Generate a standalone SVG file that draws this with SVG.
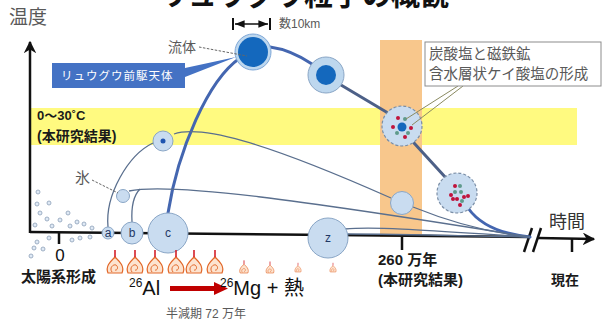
<svg xmlns="http://www.w3.org/2000/svg" width="604" height="323" viewBox="0 0 604 323">
  <style>
    .jp { font-family: "Liberation Sans", "Noto Sans CJK JP", sans-serif; }
    .gray { fill: #595959; }
    .bold { font-weight: bold; fill: #1a1a1a; }
    .body { fill: #c9dcf0; stroke: #8aa6c6; stroke-width: 1; }
    .wet { fill: #c9dcf0; stroke: #7b8ea6; stroke-width: 1.2; stroke-dasharray: 3 2; }
    .path-main { fill: none; stroke: #4466b0; stroke-width: 3; stroke-linecap: round; }
    .path-dark { fill: none; stroke: #4d6087; stroke-width: 3; stroke-linecap: round; }
    .path-thin { fill: none; stroke: #5a6f8e; stroke-width: 1.3; }
    .lead { fill: none; stroke: #666; stroke-width: 1; stroke-dasharray: 2.5 1.5; }
    .axis { stroke: #111; stroke-width: 2.5; fill: none; }
    .dust { fill: #dfe9f5; stroke: #8c9fb8; stroke-width: 0.8; }
    .red { fill: #c0143c; }
    .grn { fill: #5f9a8c; }
    .flame { fill: #fde3cf; stroke: #e2682a; stroke-width: 1.2; }
    .curl { fill: none; stroke: #e2682a; stroke-width: 1; }
    .wick { stroke: #d4202a; stroke-width: 1.6; fill: none; }
    .lbl { font-family: "Liberation Sans", sans-serif; font-size: 12px; fill: #1f3864; text-anchor: middle; }
  </style>
  <defs>
    <marker id="arrowBlack" viewBox="0 0 10 10" refX="9" refY="5" markerWidth="5" markerHeight="5" orient="auto">
      <path d="M0,0 L10,5 L0,10 L3,5 Z" fill="#111"/>
    </marker>
    <marker id="arrowSmall" viewBox="0 0 10 10" refX="10" refY="5" markerWidth="6" markerHeight="6" orient="auto-start-reverse">
      <path d="M0,1 L10,5 L0,9 Z" fill="#111"/>
    </marker>
    <g id="flameShape">
      <path class="flame" d="M-7,0 C-10,-7 -4,-12 0,-16 C4,-12 10,-7 7,0 Z"/>
      <path class="curl" d="M-3,-1 C-6,-5 -2,-9 1,-8 C4,-6 2,-2 0,-3"/>
      <path class="wick" d="M0,-16 L0,-23"/>
    </g>
  </defs>

  <!-- background bands -->
  <rect x="31" y="108" width="546" height="37" fill="#fffa80"/>
  <rect x="380" y="40" width="42" height="197" fill="#f8c78c"/>

  <!-- title -->
  <text x="304" y="6" class="jp" font-size="29" font-weight="bold" text-anchor="middle" fill="#111">リュウグウ粒子の概観</text>

  <!-- axes -->
  <g id="axes">
    <line class="axis" x1="30" y1="233" x2="30" y2="42" marker-end="url(#arrowBlack)"/>
    <polyline class="axis" points="30,232 528,237"/>
    <line class="axis" x1="538" y1="238" x2="594" y2="239" marker-end="url(#arrowBlack)"/>
    <line x1="524" y1="252" x2="532" y2="228" stroke="#111" stroke-width="2.5"/>
    <line x1="533" y1="252" x2="541" y2="228" stroke="#111" stroke-width="2.5"/>
    <line x1="59" y1="232" x2="59" y2="244" stroke="#111" stroke-width="2.5"/>
    <line x1="402" y1="237" x2="402" y2="250" stroke="#111" stroke-width="2.5"/>
    <line x1="572" y1="239" x2="572" y2="252" stroke="#111" stroke-width="2.5"/>
  </g>

  <!-- axis and band labels -->
  <text x="9" y="24" class="jp gray" font-size="19">温度</text>
  <text x="549" y="228" class="jp" font-size="18" fill="#333">時間</text>
  <text x="37" y="120" class="jp bold" font-size="13">0～30˚C</text>
  <text x="37" y="141" class="jp bold" font-size="14">(本研究結果)</text>
  <text x="60" y="261" class="jp" font-size="17" text-anchor="middle" fill="#111">0</text>
  <text x="21" y="282" class="jp bold" font-size="15">太陽系形成</text>
  <text x="378" y="265" class="jp bold" font-size="15">260 万年</text>
  <text x="378" y="285" class="jp bold" font-size="15">(本研究結果)</text>
  <text x="551" y="285" class="jp bold" font-size="14">現在</text>

  <!-- dust grains -->
  <g id="dust">
    <circle class="dust" cx="38" cy="192" r="2"/>
    <circle class="dust" cx="37" cy="204" r="2"/>
    <circle class="dust" cx="49" cy="203" r="2"/>
    <circle class="dust" cx="40" cy="213" r="2"/>
    <circle class="dust" cx="68" cy="213" r="2"/>
    <circle class="dust" cx="47" cy="219" r="2"/>
    <circle class="dust" cx="60" cy="220" r="2"/>
    <circle class="dust" cx="35" cy="225" r="2"/>
    <circle class="dust" cx="52" cy="226" r="2"/>
    <circle class="dust" cx="70" cy="226" r="2"/>
    <circle class="dust" cx="77" cy="222" r="2"/>
    <circle class="dust" cx="84" cy="224" r="2"/>
    <circle class="dust" cx="92" cy="228" r="2"/>
    <circle class="dust" cx="37" cy="242" r="2"/>
    <circle class="dust" cx="49" cy="238" r="2"/>
    <circle class="dust" cx="72" cy="240" r="2"/>
    <circle class="dust" cx="80" cy="238" r="2"/>
    <circle class="dust" cx="90" cy="237" r="2"/>
    <circle class="dust" cx="34" cy="248" r="2"/>
    <circle class="dust" cx="43" cy="249" r="2"/>
    <circle class="dust" cx="31" cy="256" r="2"/>
  </g>

  <!-- thermal histories -->
  <g id="connectors">
    <path class="path-main" d="M168,213 C178,150 208,80 240,58"/>
    <path class="path-main" d="M270,47 C285,49 300,56 312,64"/>
    <path class="path-dark" d="M341,85 L388,113"/>
    <path class="path-dark" d="M414,143 L446,178"/>
    <path class="path-main" d="M468,208 C480,225 500,234 530,237"/>
    <path class="path-thin" d="M108,227 C105,195 128,155 153,143"/>
    <path class="path-thin" d="M132,222 C131,205 134,195 140,189"/>
    <path class="path-thin" d="M174,134 C200,125 260,140 391,198"/>
    <path class="path-thin" d="M413,207 C450,222 490,233 530,237"/>
    <path class="path-thin" d="M129,191 C170,182 300,200 530,237"/>
    <path class="path-thin" d="M345,229 C380,226 450,232 530,237"/>
    <path class="path-thin" d="M348,234 C400,234 470,236 530,237"/>
  </g>

  <!-- planetesimals -->
  <g id="body-a"><circle class="body" cx="108" cy="233" r="6"/><text class="lbl" x="108" y="237" font-size="10">a</text></g>
  <g id="body-b"><circle class="body" cx="132" cy="233" r="11"/><text class="lbl" x="132" y="237">b</text></g>
  <g id="body-c"><circle class="body" cx="168" cy="233" r="20"/><text class="lbl" x="168" y="237">c</text></g>
  <g id="body-z"><circle class="body" cx="328" cy="238" r="20"/><text class="lbl" x="328" y="242" font-size="10">z</text></g>
  <g id="ice-body"><circle class="body" cx="123" cy="196" r="6.5"/></g>
  <g id="warm-body"><circle class="body" cx="163" cy="141" r="10"/><circle cx="163" cy="141" r="2.5" fill="#1f55b0"/></g>

  <!-- fluid-bearing parent body -->
  <g id="fluid-peak">
    <circle cx="253" cy="52" r="18" fill="#bdd7ee" stroke="#7fa8d8" stroke-width="1"/>
    <circle cx="253" cy="52" r="15" fill="#1468bd"/>
  </g>
  <g id="fluid-cooling">
    <circle cx="326" cy="75" r="18" fill="#bdd7ee" stroke="#8aa6c6" stroke-width="1"/>
    <circle cx="326" cy="75" r="10" fill="#1468bd"/>
  </g>

  <!-- aqueous alteration -->
  <g id="altering-body">
    <circle class="wet" cx="402" cy="126" r="20"/>
    <circle cx="402" cy="127" r="4.5" fill="#1468bd"/>
    <circle class="red" cx="398" cy="118" r="2"/>
    <circle class="grn" cx="405" cy="119" r="2"/>
    <circle class="red" cx="393" cy="127" r="2"/>
    <circle class="red" cx="411" cy="128" r="2"/>
    <circle class="grn" cx="397" cy="133" r="2"/>
    <circle class="grn" cx="408" cy="133" r="2"/>
    <circle class="red" cx="405" cy="137" r="2"/>
  </g>
  <g id="altered-body">
    <circle class="wet" cx="457" cy="193" r="20"/>
    <circle class="red" cx="455" cy="186" r="2"/>
    <circle class="grn" cx="460" cy="186" r="2"/>
    <circle class="red" cx="451" cy="195" r="2"/>
    <circle class="grn" cx="455" cy="192" r="2"/>
    <circle class="red" cx="457" cy="199" r="2"/>
    <circle class="grn" cx="461" cy="192" r="2"/>
    <circle class="red" cx="464" cy="197" r="2"/>
    <circle class="red" cx="468" cy="196" r="2"/>
    <circle class="grn" cx="462" cy="201" r="2"/>
    <circle class="red" cx="460" cy="205" r="2"/>
    <circle class="red" cx="453" cy="199" r="2"/>
  </g>
  <g id="late-body"><circle class="body" cx="402" cy="203" r="11.5"/></g>

  <!-- size scale -->
  <g id="size-scale">
    <line x1="233" y1="18" x2="233" y2="30" stroke="#111" stroke-width="2"/>
    <line x1="270" y1="18" x2="270" y2="30" stroke="#111" stroke-width="2"/>
    <line x1="235" y1="24" x2="268" y2="24" stroke="#111" stroke-width="1.6" marker-start="url(#arrowSmall)" marker-end="url(#arrowSmall)"/>
    <text x="279" y="28" class="jp gray" font-size="12">数10km</text>
  </g>

  <!-- callouts -->
  <g id="fluid-label">
    <text x="168" y="52" class="jp gray" font-size="14">流体</text>
    <line class="lead" x1="199" y1="47" x2="247" y2="56"/>
  </g>
  <g id="ice-label">
    <text x="75" y="183" class="jp gray" font-size="15">氷</text>
    <line class="lead" x1="92" y1="180" x2="118" y2="193"/>
  </g>
  <g id="parent-body-label">
    <path d="M52,63 H185 V68 L236,57 L185,77 V88 H52 Z" fill="#4472c4"/>
    <text x="61" y="80" class="jp" font-size="11.5" fill="#fff" letter-spacing="1">リュウグウ前駆天体</text>
  </g>
  <g id="mineral-label">
    <line x1="458" y1="86" x2="406" y2="119" stroke="#8a8a60" stroke-width="1"/>
    <line x1="463" y1="86" x2="412" y2="125" stroke="#8a8a60" stroke-width="1"/>
    <rect x="425" y="42" width="176" height="44" fill="#fff" stroke="#8c8c8c" stroke-width="1"/>
    <text x="429" y="59" class="jp gray" font-size="14.5">炭酸塩と磁鉄鉱</text>
    <text x="429" y="79" class="jp gray" font-size="14.5">含水層状ケイ酸塩の形成</text>
  </g>

  <!-- radiogenic heating -->
  <g id="heat">
    <use href="#flameShape" transform="translate(115,273)"/>
    <use href="#flameShape" transform="translate(135,273)"/>
    <use href="#flameShape" transform="translate(155,273)"/>
    <use href="#flameShape" transform="translate(176,273)"/>
    <use href="#flameShape" transform="translate(194,273)"/>
    <use href="#flameShape" transform="translate(215,273)"/>
    <use href="#flameShape" transform="translate(244,273) scale(0.55)"/>
    <use href="#flameShape" transform="translate(270,273) scale(0.5)"/>
    <use href="#flameShape" transform="translate(298,272) scale(0.4)"/>
    <use href="#flameShape" transform="translate(333,272) scale(0.4)"/>
  </g>
  <g id="decay">
    <text x="129" y="295" class="jp" font-size="20" fill="#111"><tspan font-size="12" dy="-8">26</tspan><tspan dy="8">Al</tspan></text>
    <rect x="170" y="286" width="46" height="5" fill="#c00000"/>
    <path d="M214,282 L228,288.5 L214,295 Z" fill="#c00000"/>
    <text x="220" y="295" class="jp" font-size="20" fill="#111"><tspan font-size="12" dy="-8">26</tspan><tspan dy="8">Mg + 熱</tspan></text>
    <text x="166" y="318" class="jp gray" font-size="12">半減期 72 万年</text>
  </g>
</svg>
